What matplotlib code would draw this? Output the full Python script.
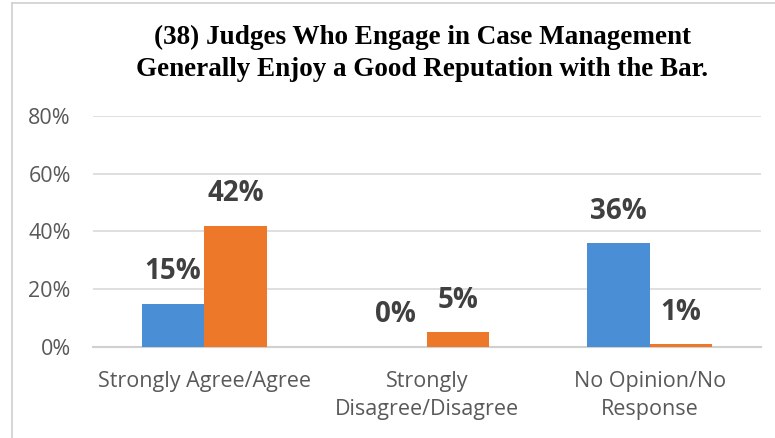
import numpy as np
import matplotlib
matplotlib.use("Agg")
import matplotlib.pyplot as plt
from matplotlib.lines import Line2D

# data
categories = ["Strongly Agree/Agree", "Strongly\nDisagree/Disagree", "No Opinion/No\nResponse"]
series_a = [15, 0, 36]   # blue
series_b = [42, 5, 1]    # orange
yticks = [0, 20, 40, 60, 80]

title = "(38) Judges Who Engage in Case Management\nGenerally Enjoy a Good Reputation with the Bar."

fig = plt.figure(figsize=(7.75, 4.38), dpi=100)
ax = fig.add_axes([0.12, 0.208, 0.862, 0.527])

x = np.arange(len(categories))
w = 0.28
bars_a = ax.bar(x - w / 2, series_a, w, color="#4A8FD6", zorder=3)
bars_b = ax.bar(x + w / 2, series_b, w, color="#EE7829", zorder=3)

for bars, vals in ((bars_a, series_a), (bars_b, series_b)):
    for b, v in zip(bars, vals):
        ax.annotate(f"{v}%", (b.get_x() + b.get_width() / 2, v),
                    xytext=(0, 23), textcoords="offset points",
                    ha="center", va="center", fontsize=20, fontweight="bold",
                    color="#404040", family="Open Sans")

ax.set_xlim(-0.5, 2.5)
ax.set_ylim(0, 80)
ax.set_yticks(yticks)
ax.set_yticklabels([f"{t}%" for t in yticks])
ax.set_xticks(x)
ax.set_xticklabels(categories, linespacing=1.45)
ax.yaxis.grid(True, color="#D9D9D9", lw=1.2, zorder=0)
ax.tick_params(axis="both", length=0, labelsize=15.5, colors="#595959")
ax.tick_params(axis="x", pad=17)
ax.tick_params(axis="y", pad=16)
for lab in ax.get_xticklabels() + ax.get_yticklabels():
    lab.set_family("Open Sans")
for s in ["top", "right", "left"]:
    ax.spines[s].set_visible(False)
ax.spines["bottom"].set_color("#D0D0D0")
ax.spines["bottom"].set_linewidth(1.5)

fig.text(0.545, 0.878, title, ha="center", va="center", fontsize=19.5,
         fontweight="bold", family="Liberation Serif", linespacing=1.36)

# light frame lines at the top and left of the chart
fig.add_artist(Line2D([12 / 775, 1], [1 - 2.5 / 438] * 2, transform=fig.transFigure,
                      color="#D0D0D0", lw=1.2))
fig.add_artist(Line2D([12 / 775] * 2, [0, 1 - 2.5 / 438], transform=fig.transFigure,
                      color="#D0D0D0", lw=1.2))

fig.savefig("out.png", dpi=100)
